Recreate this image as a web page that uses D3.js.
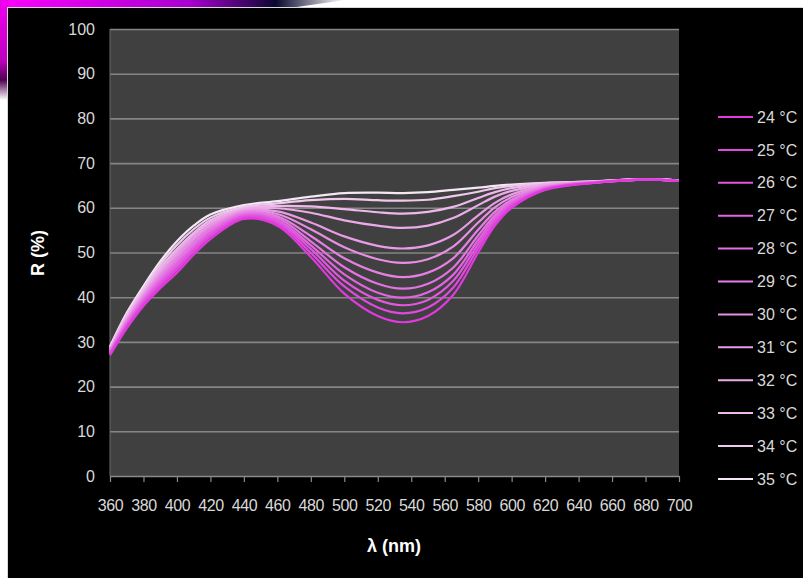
<!DOCTYPE html>
<html>
<head>
<meta charset="utf-8">
<script src="https://cdn.jsdelivr.net/npm/d3@7"></script>
<style>
  html, body { margin: 0; padding: 0; background: #fff; }
  svg { display: block; font-family: "Liberation Sans", Arial, sans-serif; }
</style>
</head>
<body>
<svg id="chart" width="803" height="578"></svg>
<script>
// wavelengths (nm)
const wavelengths = [360, 370, 380, 390, 400, 410, 420, 440, 460, 480, 500, 520, 535, 550, 565, 580, 590, 600, 620, 650, 680, 700];

// temperatures (legend)
const temps = ["24 °C", "25 °C", "26 °C", "27 °C", "28 °C", "29 °C", "30 °C", "31 °C", "32 °C", "33 °C", "34 °C", "35 °C"];

// reflectance R (%) per temperature
const r24 = [27.0, 33.0, 38.0, 42.0, 45.5, 49.5, 53.0, 57.5, 56.0, 49.0, 40.8, 35.8, 34.4, 35.8, 40.5, 50.0, 56.0, 60.0, 64.0, 65.6, 66.3, 66.0];
const r25 = [27.2, 33.4, 38.5, 42.6, 46.2, 50.2, 53.6, 57.8, 56.5, 49.9, 42.4, 37.7, 36.4, 37.7, 42.1, 51.0, 56.6, 60.4, 64.1, 65.6, 66.3, 66.0];
const r26 = [27.4, 33.6, 38.8, 43.1, 46.8, 50.7, 54.0, 58.1, 56.9, 50.8, 43.7, 39.4, 38.2, 39.4, 43.6, 51.9, 57.2, 60.7, 64.2, 65.6, 66.3, 66.0];
const r27 = [27.5, 33.9, 39.2, 43.6, 47.3, 51.2, 54.4, 58.3, 57.2, 51.6, 45.1, 41.0, 39.9, 41.1, 45.0, 52.8, 57.7, 61.0, 64.3, 65.7, 66.3, 66.0];
const r28 = [27.7, 34.2, 39.5, 44.0, 47.9, 51.7, 54.9, 58.6, 57.7, 52.5, 46.7, 43.0, 41.9, 43.0, 46.6, 53.8, 58.3, 61.4, 64.4, 65.7, 66.3, 66.0];
const r29 = [27.8, 34.5, 39.9, 44.5, 48.4, 52.2, 55.3, 58.8, 58.1, 53.7, 48.7, 45.5, 44.5, 45.5, 48.7, 55.1, 59.1, 61.8, 64.6, 65.7, 66.3, 66.0];
const r30 = [28.0, 34.8, 40.3, 45.0, 49.0, 52.8, 55.8, 59.1, 58.6, 55.2, 51.2, 48.5, 47.7, 48.5, 51.3, 56.7, 60.1, 62.4, 64.7, 65.7, 66.3, 66.0];
const r31 = [28.2, 35.0, 40.6, 45.5, 49.6, 53.3, 56.2, 59.3, 59.2, 56.7, 53.6, 51.5, 50.9, 51.6, 53.9, 58.3, 61.1, 63.0, 64.9, 65.8, 66.4, 66.1];
const r32 = [28.3, 35.3, 41.0, 46.0, 50.2, 53.9, 56.7, 59.6, 59.9, 58.9, 57.2, 56.0, 55.5, 56.0, 57.7, 60.6, 62.5, 63.8, 65.2, 65.8, 66.4, 66.1];
const r33 = [28.5, 35.7, 41.4, 46.6, 50.8, 54.4, 57.2, 59.9, 60.4, 60.3, 59.7, 59.0, 58.7, 59.1, 60.2, 62.2, 63.5, 64.4, 65.3, 65.9, 66.4, 66.1];
const r34 = [28.8, 36.1, 42.0, 47.3, 51.7, 55.2, 57.8, 60.2, 61.0, 61.7, 62.0, 61.7, 61.6, 61.8, 62.6, 63.6, 64.4, 64.9, 65.5, 65.9, 66.4, 66.1];
const r35 = [29.0, 36.5, 42.5, 48.0, 52.5, 56.0, 58.5, 60.6, 61.5, 62.5, 63.3, 63.4, 63.3, 63.5, 64.0, 64.5, 64.9, 65.2, 65.6, 65.9, 66.4, 66.1];

const seriesValues = [r24, r25, r26, r27, r28, r29, r30, r31, r32, r33, r34, r35];

const xTicks = d3.range(360, 701, 20);
const yTicks = d3.range(0, 101, 10);

const colors = ["#e03ade", "#e148df", "#e256e0", "#e364e1", "#e472e2", "#e580e3", "#e78ee5", "#e99ce6", "#ebaae8", "#edb9eb", "#f0c9ef", "#f4e8f4"];

const svg = d3.select('#chart');
const W = 803, H = 578;
const m = {left: 110, right: 679, top: 29, bottom: 476};

// decoration behind the slide panel
const defs = svg.append('defs');
const topGrad = defs.append('linearGradient').attr('id', 'topGrad');
topGrad.append('stop').attr('offset', '0').attr('stop-color', '#ff00ff');
topGrad.append('stop').attr('offset', '0.55').attr('stop-color', '#a800d0');
topGrad.append('stop').attr('offset', '0.8').attr('stop-color', '#0a0830');
topGrad.append('stop').attr('offset', '1').attr('stop-color', '#ffffff');
const leftGrad = defs.append('linearGradient').attr('id', 'leftGrad')
    .attr('x1', 0).attr('y1', 0).attr('x2', 0).attr('y2', 1);
leftGrad.append('stop').attr('offset', '0').attr('stop-color', '#f000f0');
leftGrad.append('stop').attr('offset', '0.6').attr('stop-color', '#c000c0');
leftGrad.append('stop').attr('offset', '0.8').attr('stop-color', '#500050');
leftGrad.append('stop').attr('offset', '1').attr('stop-color', '#ffffff');

svg.append('rect').attr('width', W).attr('height', H).attr('fill', '#fff');
svg.append('path').attr('d', 'M0,0 L345,0 L290,8 L0,8 Z').attr('fill', 'url(#topGrad)');
svg.append('rect').attr('x', 0).attr('y', 0).attr('width', 8).attr('height', 100).attr('fill', 'url(#leftGrad)');

// slide panel
svg.append('rect')
    .attr('x', 7.5).attr('y', 7.5).attr('width', W).attr('height', H)
    .attr('fill', '#000').attr('stroke', '#d8d8d8').attr('stroke-width', 1);

const x = d3.scaleLinear().domain([360, 700]).range([m.left, m.right]);
const y = d3.scaleLinear().domain([0, 100]).range([m.bottom, m.top]);

// plot area
svg.append('rect')
    .attr('x', m.left).attr('y', m.top)
    .attr('width', m.right - m.left).attr('height', m.bottom - m.top)
    .attr('fill', '#404040');

// gridlines
svg.append('g')
    .attr('transform', `translate(${m.left},0)`)
    .call(d3.axisLeft(y).tickValues(yTicks.slice(1)).tickSize(-(m.right - m.left)).tickFormat(''))
    .call(g => g.select('.domain').remove())
    .call(g => g.selectAll('line').attr('stroke', '#858585').attr('stroke-width', 1.6));

// left edge
svg.append('line')
    .attr('x1', m.left).attr('x2', m.left).attr('y1', m.top).attr('y2', m.bottom)
    .attr('stroke', '#6a6a6a').attr('stroke-width', 1);

// y tick labels
svg.append('g')
    .attr('transform', `translate(${m.left},0)`)
    .call(d3.axisLeft(y).tickValues(yTicks).tickSize(0).tickPadding(15))
    .call(g => g.select('.domain').remove())
    .call(g => g.selectAll('text')
        .attr('fill', '#d9d9d9').attr('font-size', 16)
        .attr('font-family', '"Liberation Sans", Arial, sans-serif'));

// x axis
svg.append('g')
    .attr('transform', `translate(0,${m.bottom})`)
    .call(d3.axisBottom(x).tickValues(xTicks).tickSize(6).tickPadding(18).tickSizeOuter(0))
    .call(g => g.select('.domain').attr('stroke', '#8a8a8a').attr('stroke-width', 1.5))
    .call(g => g.selectAll('line').attr('stroke', '#8a8a8a').attr('stroke-width', 1.2))
    .call(g => g.selectAll('text')
        .attr('fill', '#d9d9d9').attr('font-size', 16).attr('letter-spacing', -0.4)
        .attr('font-family', '"Liberation Sans", Arial, sans-serif'));

// curves
const line = d3.line()
    .x((d, i) => x(wavelengths[i]))
    .y(d => y(d))
    .curve(d3.curveCatmullRom.alpha(0.5));

svg.append('g')
    .selectAll('path')
    .data(seriesValues.map((v, i) => ({v, i})).reverse())
    .enter()
    .append('path')
    .attr('d', d => line(d.v))
    .attr('fill', 'none')
    .attr('stroke', d => colors[d.i])
    .attr('stroke-width', 2.2);

// axis titles
svg.append('text')
    .attr('transform', `translate(44,253) rotate(-90)`)
    .attr('text-anchor', 'middle')
    .attr('fill', '#fff').attr('font-weight', 'bold').attr('font-size', 18)
    .text('R (%)');

svg.append('text')
    .attr('x', 394).attr('y', 552)
    .attr('text-anchor', 'middle')
    .attr('fill', '#fff').attr('font-weight', 'bold').attr('font-size', 18)
    .text('λ (nm)');

// legend
const legend = svg.append('g')
    .selectAll('g')
    .data(temps)
    .enter()
    .append('g')
    .attr('transform', (d, i) => `translate(718,${117 + i * 32.9})`);

legend.append('line')
    .attr('x1', 0).attr('x2', 35)
    .attr('stroke', (d, i) => colors[i]).attr('stroke-width', 2);

legend.append('text')
    .attr('x', 39).attr('dy', '0.35em')
    .attr('fill', '#d9d9d9').attr('font-size', 16)
    .text(d => d);
</script>
</body>
</html>
